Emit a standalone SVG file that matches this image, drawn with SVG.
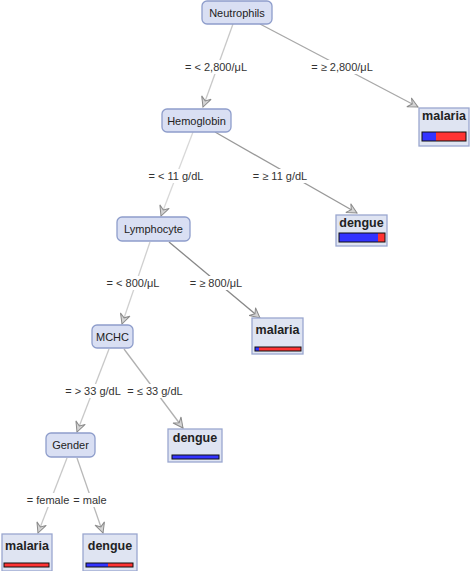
<svg xmlns="http://www.w3.org/2000/svg" width="472" height="571" viewBox="0 0 472 571">
<style>
.node rect{fill:#d9dff3;stroke:#8e9dcb;stroke-width:1.3}
.node text{font-family:"Liberation Sans",Arial,sans-serif;font-size:11px;fill:#222;text-anchor:middle}
.leaf rect.box{fill:#dfe4f2;stroke:#9aa7cf;stroke-width:1.3}
.leaf text{font-family:"Liberation Sans",Arial,sans-serif;font-size:12.5px;font-weight:bold;fill:#222;text-anchor:middle}
.bl{fill:#3333ff}
.rd{fill:#ff3333}
.frame{fill:none;stroke:#111;stroke-width:1}
.edges line{stroke-width:1.3;marker-end:url(#arr)}
.lbl rect{fill:#fff}
.lbl text{font-family:"Liberation Sans",Arial,sans-serif;font-size:11px;fill:#333;text-anchor:middle}
</style>
<defs>
<marker id="arr" viewBox="0 0 12 12" refX="11" refY="6" markerWidth="12" markerHeight="12" markerUnits="userSpaceOnUse" orient="auto">
<path d="M1,1 L11,6 L1,11 L4.5,6 z" fill="#d4d4d4" stroke="#8a8a8a" stroke-width="1"/>
</marker>
</defs>
<rect width="472" height="571" fill="#fff"/>
<g id="connectors" class="edges">
<line x1="233" y1="24" x2="203" y2="107" stroke="#c8c8c8"/>
<line x1="260" y1="24" x2="418" y2="107" stroke="#a8a8a8"/>
<line x1="193" y1="132" x2="161" y2="216" stroke="#d8d8d8"/>
<line x1="215" y1="132" x2="357" y2="213" stroke="#999"/>
<line x1="150" y1="242" x2="122" y2="324" stroke="#d0d0d0"/>
<line x1="169" y1="242" x2="260" y2="318" stroke="#888"/>
<line x1="109" y1="349" x2="77" y2="432" stroke="#c8c8c8"/>
<line x1="124" y1="349" x2="183" y2="428" stroke="#b0b0b0"/>
<line x1="67" y1="458" x2="38" y2="533" stroke="#c8c8c8"/>
<line x1="77" y1="458" x2="103" y2="533" stroke="#b8b8b8"/>
</g>
<g id="edge-labels" class="lbl">
<rect x="183" y="60" width="67" height="14"/><text x="216" y="71">= &lt; 2,800/μL</text>
<rect x="308" y="60" width="68" height="14"/><text x="342" y="71">= ≥ 2,800/μL</text>
<rect x="146" y="169" width="61" height="14"/><text x="176" y="180">= &lt; 11 g/dL</text>
<rect x="249" y="169" width="62" height="14"/><text x="280" y="180">= ≥ 11 g/dL</text>
<rect x="105" y="276" width="56" height="14"/><text x="133" y="287">= &lt; 800/μL</text>
<rect x="187" y="276" width="59" height="14"/><text x="216" y="287">= ≥ 800/μL</text>
<rect x="63" y="384" width="60" height="14"/><text x="93" y="395">= &gt; 33 g/dL</text>
<rect x="124" y="384" width="61" height="14"/><text x="155" y="395">= ≤ 33 g/dL</text>
<rect x="26" y="493" width="43" height="14"/><text x="48" y="504">= female</text>
<rect x="70" y="493" width="39" height="14"/><text x="90" y="504">= male</text>
</g>
<g id="n-neutrophils" class="node"><rect x="202" y="1" width="70" height="23" rx="5"/><text x="237" y="17">Neutrophils</text></g>
<g id="n-hemoglobin" class="node"><rect x="162" y="109" width="69" height="23" rx="5"/><text x="196.5" y="125">Hemoglobin</text></g>
<g id="n-lymphocyte" class="node"><rect x="117" y="217" width="73" height="24" rx="5"/><text x="153.5" y="233">Lymphocyte</text></g>
<g id="n-mchc" class="node"><rect x="92" y="325" width="41" height="23" rx="5"/><text x="112.5" y="341">MCHC</text></g>
<g id="n-gender" class="node"><rect x="46" y="433" width="49" height="24" rx="5"/><text x="70.5" y="449">Gender</text></g>
<g id="l-malaria-1" class="leaf"><rect class="box" x="419" y="108" width="50" height="38"/><text x="444" y="120">malaria</text>
<rect class="bl" x="422" y="132" width="14" height="9"/><rect class="rd" x="436" y="132" width="30" height="9"/><rect class="frame" x="422" y="132" width="44" height="9"/></g>
<g id="l-dengue-1" class="leaf"><rect class="box" x="336" y="215" width="51" height="31"/><text x="361.5" y="227">dengue</text>
<rect class="bl" x="339" y="233" width="39" height="9"/><rect class="rd" x="378" y="233" width="7" height="9"/><rect class="frame" x="339" y="233" width="46" height="9"/></g>
<g id="l-malaria-2" class="leaf"><rect class="box" x="252" y="318" width="51" height="36"/><text x="277.5" y="334">malaria</text>
<rect class="bl" x="255" y="347" width="4" height="4"/><rect class="rd" x="259" y="347" width="42" height="4"/><rect class="frame" x="255" y="347" width="46" height="4"/></g>
<g id="l-dengue-2" class="leaf"><rect class="box" x="168" y="429" width="54" height="33"/><text x="195" y="442">dengue</text>
<rect class="bl" x="172" y="455" width="47" height="4"/><rect class="frame" x="172" y="455" width="47" height="4"/></g>
<g id="l-malaria-3" class="leaf"><rect class="box" x="2" y="534" width="50" height="37"/><text x="27" y="550">malaria</text>
<rect class="rd" x="4" y="563" width="45" height="4"/><rect class="frame" x="4" y="563" width="45" height="4"/></g>
<g id="l-dengue-3" class="leaf"><rect class="box" x="83" y="534" width="54" height="37"/><text x="110" y="550">dengue</text>
<rect class="bl" x="86" y="563" width="22" height="4"/><rect class="rd" x="108" y="563" width="25" height="4"/><rect class="frame" x="86" y="563" width="47" height="4"/></g>
</svg>
